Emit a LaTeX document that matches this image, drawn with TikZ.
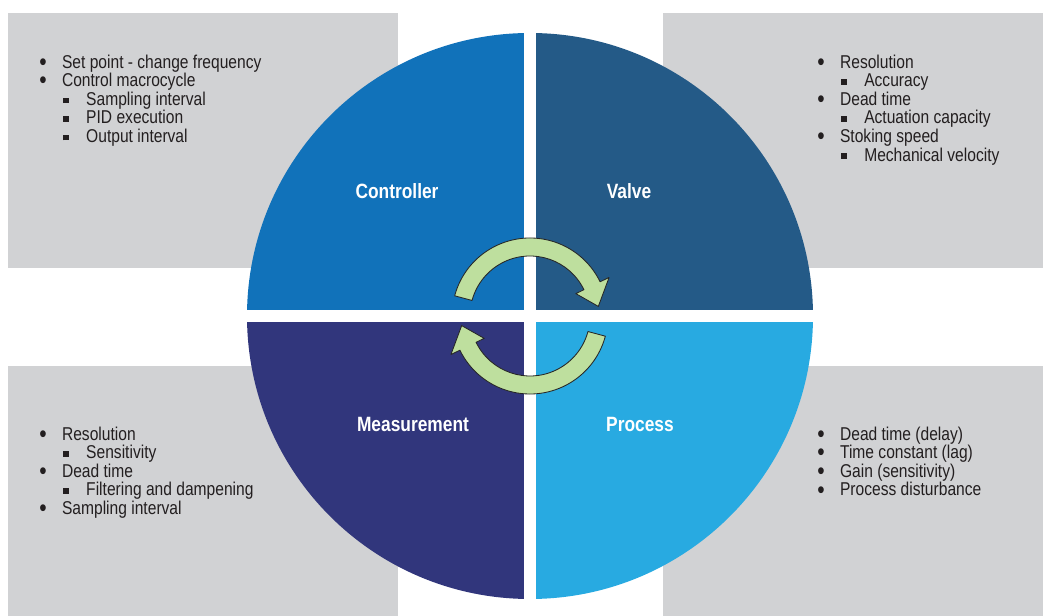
\documentclass[tikz,border=0pt]{standalone}
\usepackage{fontspec}
\setmainfont{Liberation Sans}[FakeStretch=0.84]
\usetikzlibrary{positioning}

\definecolor{panelgray}{HTML}{D1D2D4}
\definecolor{ctrlblue}{HTML}{1172BA}
\definecolor{valveblue}{HTML}{245A87}
\definecolor{measblue}{HTML}{31367C}
\definecolor{procblue}{HTML}{28AAE1}
\definecolor{cyclegreen}{HTML}{BEDF9E}
\definecolor{listink}{HTML}{231F20}

% list entries: round bullet and square sub-bullet
\newcommand{\liststrut}{\rule[-3pt]{0pt}{12.6pt}}
\newcommand{\dotitem}[1]{\makebox[16.2pt][l]{\raisebox{-0.11em}{\scalebox{1.35}{\textbullet}}}\liststrut#1}
\newcommand{\sqitem}[1]{\hspace*{17pt}\makebox[16.4pt][l]{\rule[1.6pt]{3.8pt}{3.8pt}}\liststrut#1}

\tikzset{
  listnode/.style={anchor=north west, align=left, inner sep=0pt, text=listink,
    font=\fontsize{13.2pt}{13.2pt}\selectfont},
  quadlabel/.style={text=white, inner sep=0pt, font=\bfseries\fontsize{14.7pt}{16pt}\selectfont},
  cyclearrow/.style={fill=cyclegreen, draw=black!85, line width=0.6pt, line join=round}
}

\begin{document}
\begin{tikzpicture}[x=0.025cm, y=0.025cm]
    \useasboundingbox (0,0) rectangle (1043,616);

    % Gray panels
    \fill[panelgray] (8,348) rectangle (398,603);
    \fill[panelgray] (663,348) rectangle (1043,603);
    \fill[panelgray] (8,0) rectangle (398,250);
    \fill[panelgray] (663,0) rectangle (1043,250);

    % Circle of four quadrants
    \coordinate (c) at (530,300);
    \begin{scope}[shift={(c)}]
        \fill[ctrlblue] (0,0) -- (180:283) arc[start angle=180, end angle=90, radius=283] -- cycle;
        \fill[valveblue] (0,0) -- (90:283) arc[start angle=90, end angle=0, radius=283] -- cycle;
        \fill[procblue] (0,0) -- (0:283) arc[start angle=0, end angle=-90, radius=283] -- cycle;
        \fill[measblue] (0,0) -- (270:283) arc[start angle=270, end angle=180, radius=283] -- cycle;

        % White cross
        \fill[white] (-6,-290) rectangle (6,290);
        \fill[white] (-290,-6) rectangle (290,6);

        % Cycle arrows
        \draw[cyclearrow] (165:78) arc[start angle=165, end angle=26, radius=78]
            -- (26:88) -- (8:69) -- (26:51) -- (26:60)
            arc[start angle=26, end angle=165, radius=60] -- cycle;
        \draw[cyclearrow] (345:78) arc[start angle=345, end angle=206, radius=78]
            -- (206:88) -- (188:69) -- (206:51) -- (206:60)
            arc[start angle=206, end angle=345, radius=60] -- cycle;
    \end{scope}

    % Quadrant names
    \node[quadlabel] (ctrl) at (397,425) {Controller};
    \node[quadlabel] (valve) at (629,425) {Valve};
    \node[quadlabel] (meas) at (413,192) {Measurement};
    \node[quadlabel] (proc) at (640,192) {Process};

    % Lists
    \node[listnode] (ctrllist) at (39,561.5) {\dotitem{Set point - change frequency}\\
        \dotitem{Control macrocycle}\\ \sqitem{Sampling interval}\\
        \sqitem{PID execution}\\ \sqitem{Output interval}};
    \node[listnode] (valvelist) at (817,561.5) {\dotitem{Resolution}\\ \sqitem{Accuracy}\\
        \dotitem{Dead time}\\ \sqitem{Actuation capacity}\\
        \dotitem{Stoking speed}\\ \sqitem{Mechanical velocity}};
    \node[listnode] (measlist) at (39,189.5) {\dotitem{Resolution}\\ \sqitem{Sensitivity}\\
        \dotitem{Dead time}\\ \sqitem{Filtering and dampening}\\
        \dotitem{Sampling interval}};
    \node[listnode] (proclist) at (817,189.5) {\dotitem{Dead time (delay)}\\
        \dotitem{Time constant (lag)}\\ \dotitem{Gain (sensitivity)}\\
        \dotitem{Process disturbance}};

\end{tikzpicture}
\end{document}
